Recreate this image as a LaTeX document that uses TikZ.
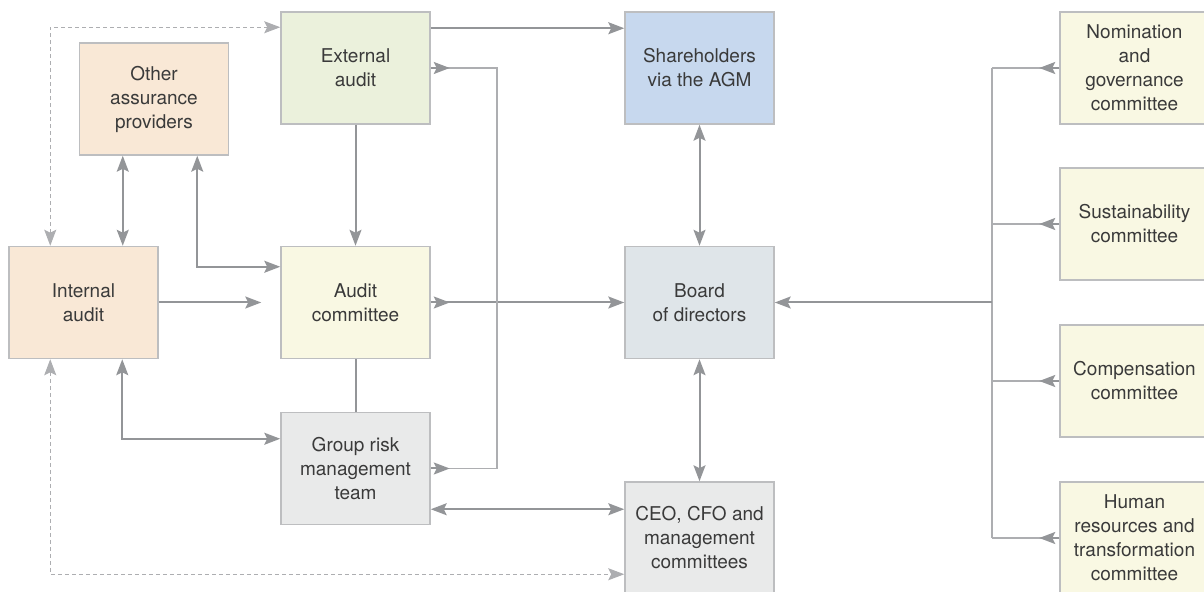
\documentclass[tikz,border=0pt]{standalone}
\usepackage{fontspec}
\setmainfont{TeX Gyre Heros}
\usetikzlibrary{arrows.meta}
\definecolor{edge}{HTML}{BDBEC0}
\definecolor{arr}{HTML}{939598}
\definecolor{thin}{HTML}{ADAEB1}
\definecolor{ink}{HTML}{3A3A3A}
\definecolor{peach}{HTML}{F9E8D6}
\definecolor{sage}{HTML}{EBF1DC}
\definecolor{cream}{HTML}{F9F8E3}
\definecolor{sky}{HTML}{C7D8EE}
\definecolor{slate}{HTML}{DFE5E9}
\definecolor{mist}{HTML}{E9EAEA}

\begin{document}
\begin{tikzpicture}[x=0.5pt, y=-0.5pt,
    >={Stealth[length=8pt,width=6pt,inset=1.5pt]},
    box/.style={draw=edge, line width=0.75pt, minimum width=74.5pt, minimum height=56pt,
      inner sep=0pt, align=center, text=ink, font=\fontsize{9.5}{12}\selectfont},
    flow/.style={draw=arr, line width=1pt},
    link/.style={draw=thin, line width=0.75pt},
    dots/.style={draw=thin, line width=0.5pt, dash pattern=on 2pt off 1.5pt}]
    \useasboundingbox (0,0) rectangle (1204,592);

    \node[box, fill=sage]  (ext)   at (355.5,68)  {External\\audit};
    \node[box, fill=peach] (other) at (154,99)    {Other\\assurance\\providers};
    \node[box, fill=peach] (int)   at (83.5,302.5)  {Internal\\audit};
    \node[box, fill=cream] (audit) at (355.5,302.5) {Audit\\committee};
    \node[box, fill=mist]  (risk)  at (355.5,468.5) {Group risk\\management\\team};
    \node[box, fill=sky]   (share) at (699.5,68)  {Shareholders\\via the AGM};
    \node[box, fill=slate] (board) at (699.5,302.5) {Board\\of directors};
    \node[box, fill=mist]  (ceo)   at (699.5,538) {CEO, CFO and\\management\\committees};

    \node[box, fill=cream] (nom)  at (1134.5,68)  {Nomination\\and\\governance\\committee};
    \node[box, fill=cream] (sus)  at (1134.5,224) {Sustainability\\committee};
    \node[box, fill=cream] (comp) at (1134.5,381) {Compensation\\committee};
    \node[box, fill=cream] (hr)   at (1134.5,538) {Human\\resources and\\transformation\\committee};

    \coordinate (bustop) at (992,68);
    \coordinate (busbot) at (992,538);
    \coordinate (riskbus) at (497,68);

    \draw[flow,->] ([yshift=-8.5pt]ext.north east) -- ([yshift=-8.5pt]share.north west);
    \draw[flow,->] (ext.south) -- (audit.north);
    \draw[flow] (audit.south) -- (risk.north);
    \draw[flow,->] (int.east) -- ([xshift=-9.5pt]audit.west);
    \draw[flow,->] (audit.east) -- (board.west);
    \draw[flow,->] (audit.east) -- ++(9.5pt,0);

    \draw[flow,<->] ([xshift=22pt]other.south west) -- ([xshift=22pt]other.south west |- int.north);
    \draw[flow,<->] ([xshift=-16pt]other.south east) |- ([yshift=-10.5pt]audit.north west);
    \draw[flow,<->] ([xshift=57pt]int.south west) |- ([yshift=-13.5pt]risk.north west);
    \draw[flow,<->] ([yshift=8pt]risk.south east) -- ([yshift=8pt]risk.south east -| ceo.west);

    \draw[link] (ext.east) -- (riskbus) |- (risk.east);
    \draw[flow,->] (ext.east) -- ++(9.5pt,0);
    \draw[flow,->] (risk.east) -- ++(9.5pt,0);

    \draw[flow,<->] (share.south) -- (board.north);
    \draw[flow,<->] (board.south) -- (ceo.north);

    \draw[dots,<->] ([xshift=21pt]int.north west) |- ([yshift=-8pt]ext.north west);
    \draw[dots,<->] ([xshift=21pt]int.south west) |- ([yshift=-46.5pt]ceo.north west);

    \draw[link] (bustop) -- (busbot);
    \foreach \c in {nom,sus,comp,hr} {
      \draw[link] (\c.west) -- (\c.west -| bustop);
      \draw[flow,->] (\c.west) -- ++(-10pt,0);
    }
    \draw[flow,->] (board.east -| bustop) -- (board.east);
\end{tikzpicture}
\end{document}
